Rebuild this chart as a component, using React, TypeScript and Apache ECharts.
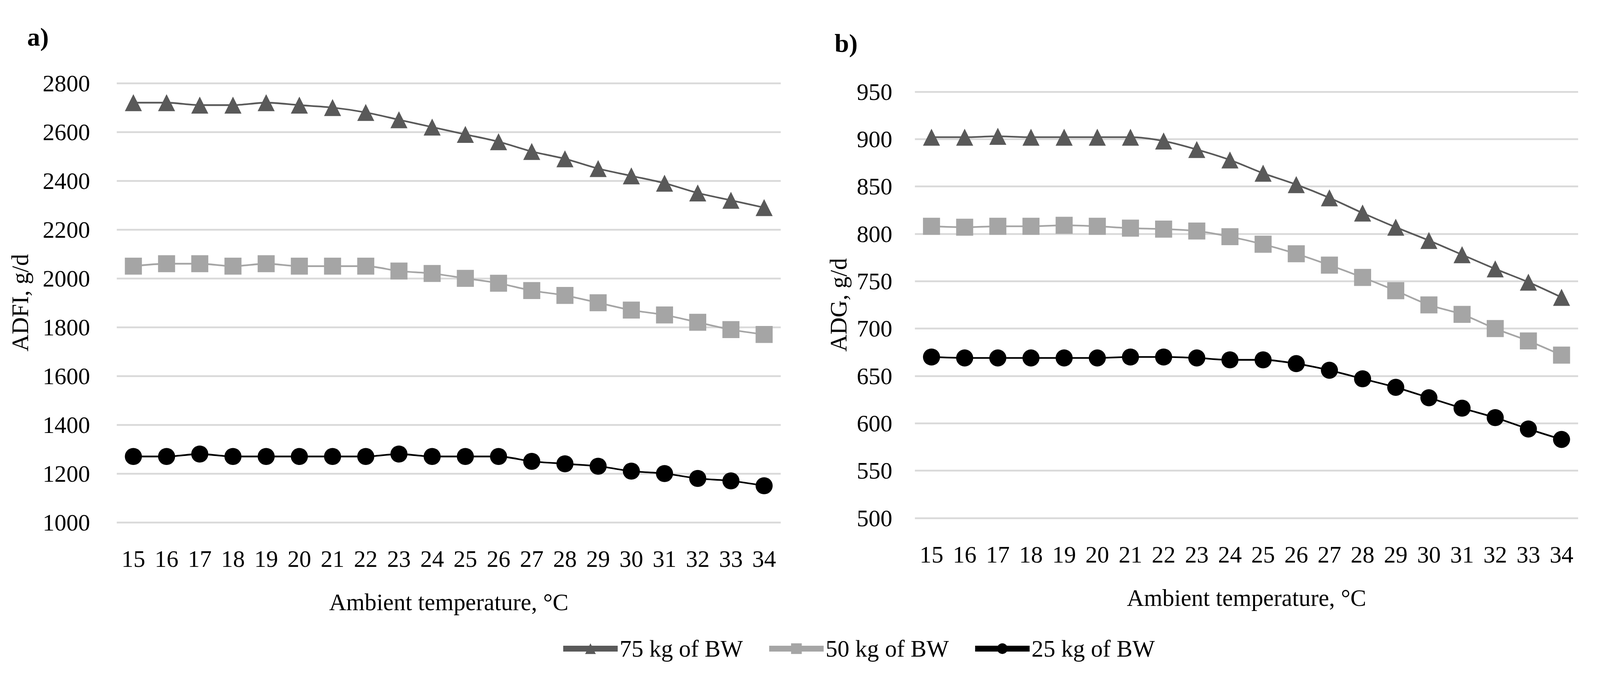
import React, { useEffect, useRef } from "react";
import * as echarts from "echarts";

const temps = ["15","16","17","18","19","20","21","22","23","24","25","26","27","28","29","30","31","32","33","34"];
const seriesNames = ["75 kg of BW", "50 kg of BW", "25 kg of BW"];

const adfi75 = [2720,2720,2710,2710,2720,2710,2700,2680,2650,2620,2590,2560,2520,2490,2450,2420,2390,2350,2320,2290];
const adfi50 = [2050,2060,2060,2050,2060,2050,2050,2050,2030,2020,2000,1980,1950,1930,1900,1870,1850,1820,1790,1770];
const adfi25 = [1270,1270,1280,1270,1270,1270,1270,1270,1280,1270,1270,1270,1250,1240,1230,1210,1200,1180,1170,1150];

const adg75 = [902,902,903,902,902,902,902,898,889,878,864,852,838,822,807,793,778,763,749,733];
const adg50 = [808,807,808,808,809,808,806,805,803,797,789,779,767,754,740,725,715,700,687,672];
const adg25 = [670,669,669,669,669,669,670,670,669,667,667,663,656,647,638,627,616,606,594,583];

const FONT = "Liberation Serif";
const colors = ["#595959", "#A5A5A5", "#000000"];
const symbols = ["triangle", "rect", "circle"];

export default function App() {
  const ref = useRef<HTMLDivElement>(null);
  useEffect(() => {
    if (!ref.current) return;
    document.body.style.margin = "0";
    document.body.style.overflow = "hidden";
    const el = ref.current;
    const w = el.clientWidth || 4316;
    const h = el.clientHeight || 1729;
    const sx = w / 4316;
    const sy = h / 1729;
    const sf = Math.min(sx, sy);
    const X = (v: number) => v * sx;
    const Y = (v: number) => v * sy;
    const F = (v: number) => v * sf;

    const chart = echarts.init(el, null, { renderer: "svg" });

    const mkX = (gridIndex: number) => ({
      type: "category",
      gridIndex,
      data: temps,
      boundaryGap: true,
      axisLine: { show: false },
      axisTick: { show: false },
      axisLabel: { fontFamily: FONT, fontSize: F(64), color: "#000", margin: Y(63), interval: 0 },
      name: "Ambient temperature, °C",
      nameLocation: "middle",
      nameGap: Y(174),
      nameTextStyle: { fontFamily: FONT, fontSize: F(64), color: "#000" },
    });
    const mkY = (gridIndex: number, min: number, max: number, interval: number, name: string, margin: number, nameGap: number) => ({
      type: "value",
      gridIndex,
      min,
      max,
      interval,
      axisLine: { show: false },
      axisTick: { show: false },
      splitLine: { show: true, lineStyle: { color: "#D9D9D9", width: F(5) } },
      axisLabel: { fontFamily: FONT, fontSize: F(64), color: "#000", margin: X(margin), formatter: (v: number) => String(v) },
      name,
      nameLocation: "middle",
      nameRotate: 90,
      nameGap: X(nameGap),
      nameTextStyle: { fontFamily: FONT, fontSize: F(64), color: "#000" },
    });
    const mkSeries = (idx: number, axisIndex: number, data: number[]) => ({
      type: "line",
      name: seriesNames[idx],
      xAxisIndex: axisIndex,
      yAxisIndex: axisIndex,
      data,
      smooth: 0.3,
      symbol: symbols[idx],
      symbolSize: F(46),
      lineStyle: { color: colors[idx], width: F(4.5) },
      itemStyle: { color: colors[idx] },
    });

    chart.setOption({
      animation: false,
      backgroundColor: "#fff",
      title: [
        { text: "a)", left: X(68), top: Y(56), textStyle: { fontFamily: FONT, fontSize: F(70), fontWeight: "bold", color: "#000" } },
        { text: "b)", left: X(2246), top: Y(72), textStyle: { fontFamily: FONT, fontSize: F(70), fontWeight: "bold", color: "#000" } },
      ],
      legend: {
        left: X(1506),
        top: Y(1626),
        itemWidth: X(147),
        itemHeight: F(36),
        itemGap: X(63),
        textStyle: { fontFamily: FONT, fontSize: F(64), color: "#000" },
        data: seriesNames.map((n, i) => ({
          name: n,
          itemStyle: { color: colors[i] },
          lineStyle: { color: colors[i], width: F(16) },
        })),
      },
      grid: [
        { left: X(315), top: Y(213), width: X(1791), height: Y(1125) },
        { left: X(2468), top: Y(235), width: X(1789), height: Y(1092) },
      ],
      xAxis: [mkX(0), mkX(1)],
      yAxis: [
        mkY(0, 1000, 2800, 200, "ADFI, g/d", 72, 229),
        mkY(1, 500, 950, 50, "ADG, g/d", 61, 174),
      ],
      series: [
        mkSeries(0, 0, adfi75),
        mkSeries(1, 0, adfi50),
        mkSeries(2, 0, adfi25),
        mkSeries(0, 1, adg75),
        mkSeries(1, 1, adg50),
        mkSeries(2, 1, adg25),
      ],
    });
    return () => chart.dispose();
  }, []);
  return (
    <div
      ref={ref}
      style={{ position: "fixed", left: 0, top: 0, width: "100vw", height: "100vh", background: "#fff" }}
    />
  );
}
